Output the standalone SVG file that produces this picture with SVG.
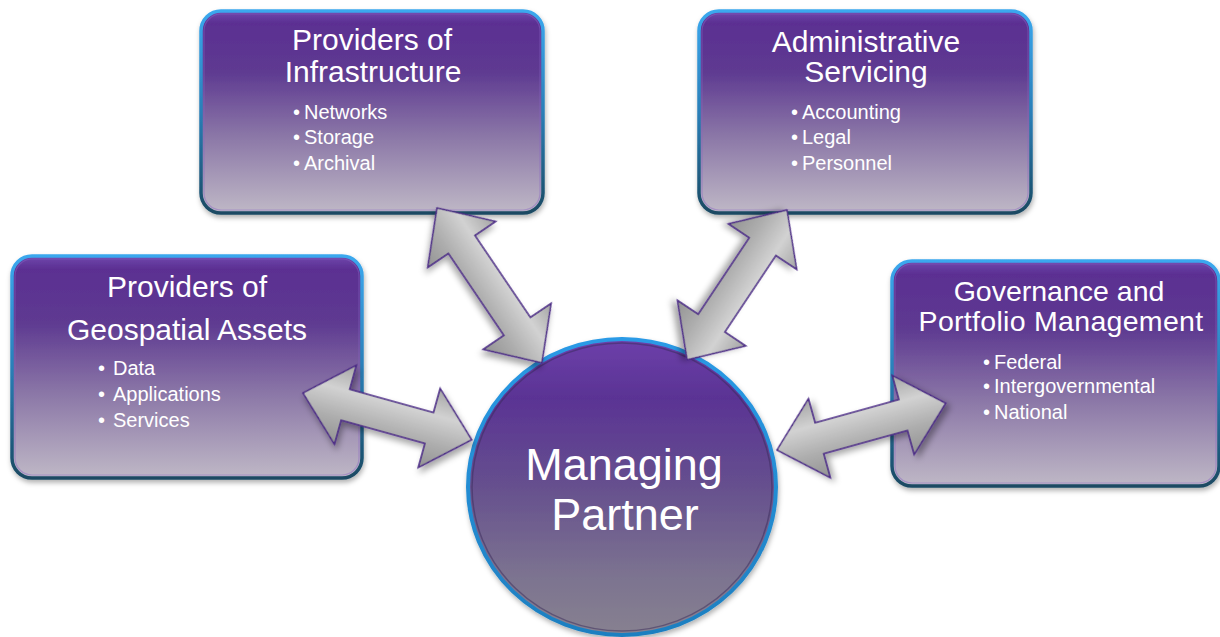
<svg xmlns="http://www.w3.org/2000/svg" width="1220" height="637" viewBox="0 0 1220 637">
<style>
  .box{fill:url(#boxFill);stroke:url(#boxStroke);stroke-width:3.5;filter:url(#shadow)}
  .inner{fill:none;stroke:#8a66c4;stroke-opacity:0.45;stroke-width:1.2}
  .title{font-family:"Liberation Sans",Arial,sans-serif;font-size:30px;fill:#ffffff;text-anchor:middle}
  .title2{font-family:"Liberation Sans",Arial,sans-serif;font-size:28.5px;fill:#ffffff;text-anchor:middle}
  .bul{font-family:"Liberation Sans",Arial,sans-serif;font-size:20px;fill:#ffffff}
  .big{font-family:"Liberation Sans",Arial,sans-serif;font-size:45px;fill:#ffffff;text-anchor:middle}
  .arrow{fill:url(#arrowFill);stroke:#4b2a85;stroke-width:1.6;stroke-linejoin:miter;filter:url(#ashadow)}
</style>
<defs>
  <linearGradient id="boxFill" x1="0" y1="0" x2="0" y2="1">
    <stop offset="0" stop-color="#7048ad"/>
    <stop offset="0.06" stop-color="#5b2f92"/>
    <stop offset="0.3" stop-color="#5e3a91"/>
    <stop offset="0.62" stop-color="#8b77a7"/>
    <stop offset="1" stop-color="#bfb8c6"/>
  </linearGradient>
  <linearGradient id="boxStroke" x1="0" y1="0" x2="0" y2="1">
    <stop offset="0" stop-color="#3ba8ee"/>
    <stop offset="0.5" stop-color="#2a7fb8"/>
    <stop offset="1" stop-color="#1a4a63"/>
  </linearGradient>
  <linearGradient id="circFill" x1="0" y1="0" x2="0" y2="1">
    <stop offset="0" stop-color="#6d40aa"/>
    <stop offset="0.2" stop-color="#5a3394"/>
    <stop offset="0.5" stop-color="#66508e"/>
    <stop offset="0.8" stop-color="#7c7390"/>
    <stop offset="1" stop-color="#878190"/>
  </linearGradient>
  <linearGradient id="circStroke" x1="0" y1="0" x2="0" y2="1">
    <stop offset="0" stop-color="#2a9ae6"/>
    <stop offset="1" stop-color="#1e7fc0"/>
  </linearGradient>
  <linearGradient id="arrowFill" x1="0" y1="0" x2="0" y2="1">
    <stop offset="0" stop-color="#a4a4a4"/>
    <stop offset="0.33" stop-color="#d2d2d2"/>
    <stop offset="0.5" stop-color="#c0c0c0"/>
    <stop offset="0.68" stop-color="#adadad"/>
    <stop offset="1" stop-color="#939393"/>
  </linearGradient>
  <filter id="shadow" x="-10%" y="-10%" width="120%" height="125%">
    <feDropShadow dx="1" dy="3" stdDeviation="2.5" flood-color="#000" flood-opacity="0.3"/>
  </filter>
  <filter id="ashadow" x="-20%" y="-20%" width="140%" height="140%">
    <feDropShadow dx="3" dy="4" stdDeviation="3" flood-color="#000" flood-opacity="0.35"/>
  </filter>
</defs>

<g id="node-infrastructure">
  <rect class="box" x="201" y="11" width="342" height="202" rx="20"/>
  <rect class="inner" x="204" y="14" width="336" height="196" rx="17"/>
  <text class="title" x="372" y="50">Providers of</text>
  <text class="title" x="373" y="82">Infrastructure</text>
  <text class="bul" x="293" y="119">•<tspan x="304">Networks</tspan></text>
  <text class="bul" x="293" y="144">•<tspan x="304">Storage</tspan></text>
  <text class="bul" x="293" y="170">•<tspan x="304">Archival</tspan></text>
</g>

<g id="node-administrative">
  <rect class="box" x="699" y="11" width="332" height="202" rx="20"/>
  <rect class="inner" x="702" y="14" width="326" height="196" rx="17"/>
  <text class="title" x="866" y="52">Administrative</text>
  <text class="title" x="866" y="82">Servicing</text>
  <text class="bul" x="791" y="119">•<tspan x="802">Accounting</tspan></text>
  <text class="bul" x="791" y="144">•<tspan x="802">Legal</tspan></text>
  <text class="bul" x="791" y="170">•<tspan x="802">Personnel</tspan></text>
</g>

<g id="node-geospatial">
  <rect class="box" x="12" y="256" width="350" height="222" rx="20"/>
  <rect class="inner" x="15" y="259" width="344" height="216" rx="17"/>
  <text class="title" x="187" y="297">Providers of</text>
  <text class="title" x="187" y="340">Geospatial Assets</text>
  <text class="bul" x="98" y="375">•<tspan x="113">Data</tspan></text>
  <text class="bul" x="98" y="401">•<tspan x="113">Applications</tspan></text>
  <text class="bul" x="98" y="427">•<tspan x="113">Services</tspan></text>
</g>

<g id="node-governance">
  <rect class="box" x="892" y="261" width="327" height="225" rx="20"/>
  <rect class="inner" x="895" y="264" width="321" height="219" rx="17"/>
  <text class="title2" x="1059" y="301">Governance and</text>
  <text class="title2" x="1061" y="331" letter-spacing="0.3">Portfolio Management</text>
  <text class="bul" x="983" y="369">•<tspan x="994">Federal</tspan></text>
  <text class="bul" x="983" y="393">•<tspan x="994">Intergovernmental</tspan></text>
  <text class="bul" x="983" y="419">•<tspan x="994">National</tspan></text>
</g>

<g id="node-managing-partner">
  <ellipse cx="622" cy="487" rx="154" ry="148" fill="url(#circFill)" stroke="url(#circStroke)" stroke-width="4" filter="url(#shadow)"/>
  <ellipse cx="622" cy="487" rx="150" ry="144" fill="none" stroke="#3a2a5a" stroke-opacity="0.5" stroke-width="1.5"/>
  <text class="big" x="624" y="480">Managing</text>
  <text class="big" x="625" y="530">Partner</text>
</g>

<g id="connectors">
  <path class="arrow" transform="translate(437,208) rotate(55.9)" d="M0,0 L44,-41 L44,-16 L143,-16 L143,-41 L187,0 L143,41 L143,16 L44,16 L44,41 Z"/>
  <path class="arrow" transform="translate(303,393) rotate(15.5)" d="M0,0 L44,-41 L44,-16 L131,-16 L131,-41 L175,0 L131,41 L131,16 L44,16 L44,41 Z"/>
  <path class="arrow" transform="translate(787,210) rotate(123.7)" d="M0,0 L44,-41 L44,-16 L136,-16 L136,-41 L180,0 L136,41 L136,16 L44,16 L44,41 Z"/>
  <path class="arrow" transform="translate(777,450) rotate(-15.5)" d="M0,0 L44,-41 L44,-16 L131,-16 L131,-41 L175,0 L131,41 L131,16 L44,16 L44,41 Z"/>
</g>
</svg>
